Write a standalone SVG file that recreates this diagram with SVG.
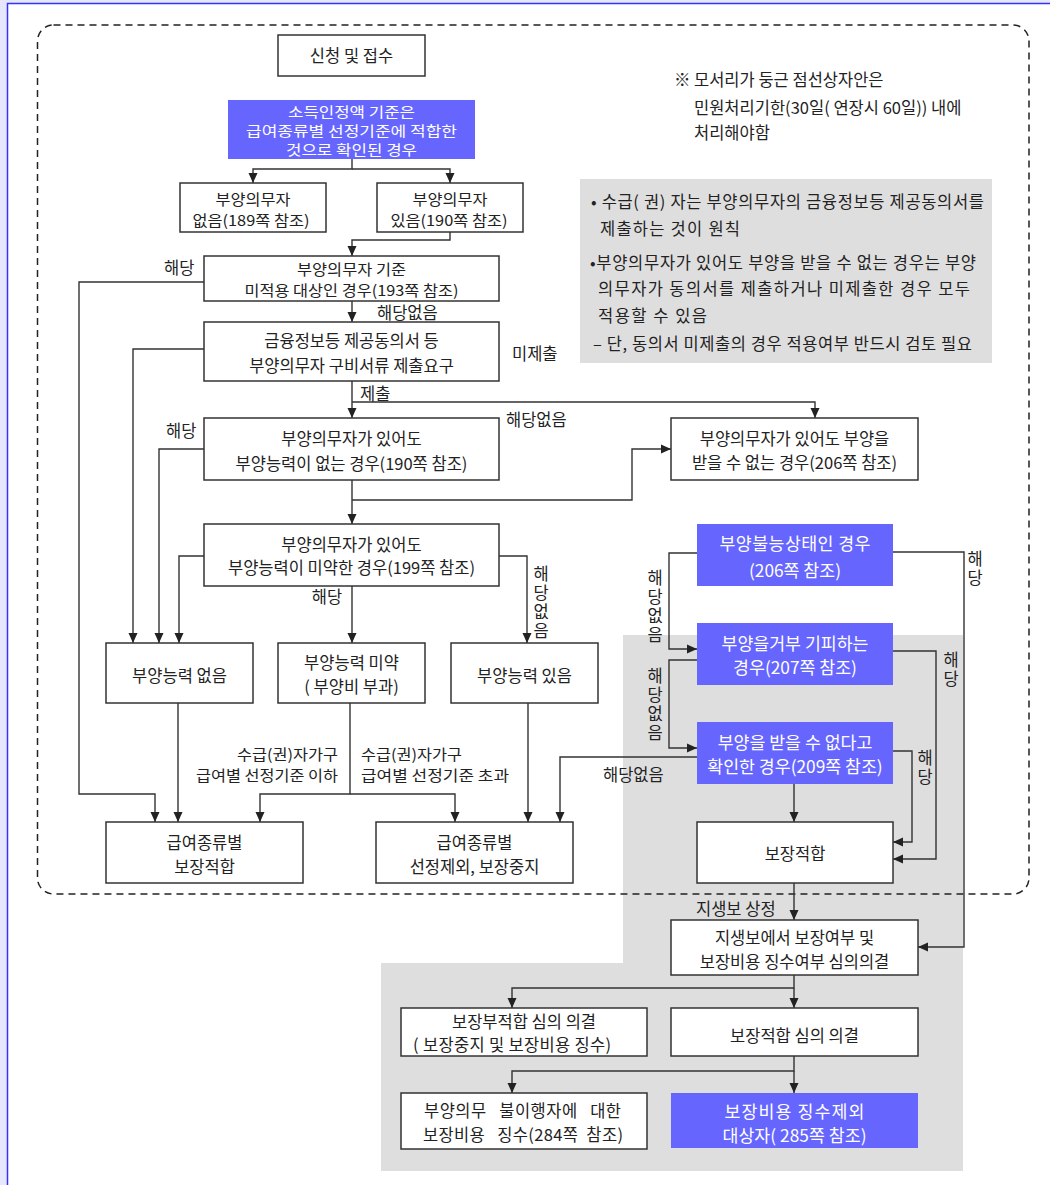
<svg xmlns="http://www.w3.org/2000/svg" width="1050" height="1185" viewBox="0 0 1050 1185">
<defs>
<marker id="ah" markerUnits="userSpaceOnUse" markerWidth="10" markerHeight="10" refX="10" refY="5" orient="auto">
<path d="M0,0.5 L10,5 L0,9.5 z" fill="#222"/>
</marker>
<style>
text{font-family:"Noto Sans CJK KR","Noto Sans",sans-serif;font-size:16.5px;fill:#222;dominant-baseline:central}
.c{text-anchor:middle}
.s{font-size:15px}
.w{fill:#fff;font-size:17.3px}
.t{fill:#fff;font-size:14px}
.v{writing-mode:vertical-rl;text-anchor:middle;letter-spacing:2.5px}
.box{fill:#fff;stroke:#333;stroke-width:1.5}
.blue{fill:#6666ff}
.cn{fill:none;stroke:#333;stroke-width:1.4}
.ar{marker-end:url(#ah)}
</style>
</defs>
<rect x="0" y="0" width="1050" height="1185" fill="#e6e6fc"/>
<rect x="7.5" y="3.5" width="1100" height="1250" fill="#fff" stroke="#3333ff" stroke-width="1.5"/>
<polygon points="623,635 963,635 963,1171 381,1171 381,963 623,963" fill="#dedede"/>
<rect x="37.5" y="25" width="991.5" height="869" rx="16" ry="16" fill="none" stroke="#222" stroke-width="1.5" stroke-dasharray="7 5"/>

<g id="note">
<text x="674" y="79">※</text>
<text x="694" y="79">모서리가 둥근 점선상자안은</text>
<text x="694" y="107">민원처리기한(30일( 연장시 60일)) 내에</text>
<text x="694" y="132">처리해야함</text>
</g>
<g id="notebox">
<rect x="580" y="179" width="412" height="184" fill="#dedede"/>
<text x="591" y="201" textLength="393" lengthAdjust="spacing">• 수급( 권) 자는 부양의무자의 금융정보등 제공동의서를</text>
<text x="600" y="228" textLength="140" lengthAdjust="spacing">제출하는 것이 원칙</text>
<text x="590" y="262" textLength="386" lengthAdjust="spacing">•부양의무자가 있어도 부양을 받을 수 없는 경우는 부양</text>
<text x="598" y="288" textLength="372" lengthAdjust="spacing">의무자가 동의서를 제출하거나 미제출한 경우 모두</text>
<text x="598" y="315" textLength="109" lengthAdjust="spacing">적용할 수 있음</text>
<text x="593" y="343" textLength="379" lengthAdjust="spacing">– 단, 동의서 미제출의 경우 적용여부 반드시 검토 필요</text>
</g>

<g id="connectors">
<path class="cn ar" d="M352,159 V169 H253 V183"/>
<path class="cn ar" d="M352,169 H450 V183"/>
<path class="cn ar" d="M450,232 V240 H352 V256"/>
<path class="cn ar" d="M352,301 V322"/>
<path class="cn ar" d="M204,282 H79 V794 H155 V822"/>
<path class="cn ar" d="M204,349 H133 V643"/>
<path class="cn ar" d="M352,381 V418"/>
<path class="cn ar" d="M352,402 H815 V418"/>
<path class="cn ar" d="M204,449 H159 V643"/>
<path class="cn ar" d="M352,480 V524"/>
<path class="cn ar" d="M352,500 H632 V449 H671"/>
<path class="cn ar" d="M204,556 H179 V643"/>
<path class="cn ar" d="M352,586 V643"/>
<path class="cn ar" d="M499,556 H527 V643"/>
<path class="cn ar" d="M178,703 V822"/>
<path class="cn ar" d="M350,703 V794 H260 V822"/>
<path class="cn ar" d="M350,794 H455 V822"/>
<path class="cn ar" d="M528,703 V822"/>
<path class="cn ar" d="M697,757 H560 V822"/>
<path class="cn ar" d="M697,553 H669 V649 H697"/>
<path class="cn ar" d="M697,660 H669 V748 H697"/>
<path class="cn ar" d="M893,552 H964 V947 H918"/>
<path class="cn ar" d="M893,651 H936 V859 H893"/>
<path class="cn ar" d="M893,751 H912 V842 H893"/>
<path class="cn ar" d="M794,784 V822"/>
<path class="cn ar" d="M794,883 V920"/>
<path class="cn ar" d="M794,975 V988 H512 V1008"/>
<path class="cn ar" d="M794,988 V1008"/>
<path class="cn ar" d="M794,1056 V1071 H512 V1093"/>
<path class="cn ar" d="M794,1071 V1093"/>
</g>

<g id="labels">
<text x="164" y="267">해당</text>
<text x="377" y="312">해당없음</text>
<text x="512" y="353">미제출</text>
<text x="360" y="393">제출</text>
<text x="166" y="430">해당</text>
<text x="506" y="419">해당없음</text>
<text class="c" x="327" y="596">해당</text>
<text class="v" x="541" y="603">해당없음</text>
<text class="s" x="338" y="753" text-anchor="end" textLength="101" lengthAdjust="spacingAndGlyphs">수급(권)자가구</text>
<text class="s" x="338" y="774" text-anchor="end" textLength="142" lengthAdjust="spacingAndGlyphs">급여별 선정기준 이하</text>
<text class="s" x="361" y="753" textLength="101" lengthAdjust="spacingAndGlyphs">수급(권)자가구</text>
<text class="s" x="361" y="774" textLength="148" lengthAdjust="spacingAndGlyphs">급여별 선정기준 초과</text>
<text x="603" y="774">해당없음</text>
<text class="v" x="655" y="607">해당없음</text>
<text class="v" x="655" y="705">해당없음</text>
<text class="v" x="975" y="569">해당</text>
<text class="v" x="951" y="670">해당</text>
<text class="v" x="925" y="768">해당</text>
<text x="696" y="908">지생보 상정</text>
</g>

<g id="n-apply"><rect class="box" x="278" y="35" width="147" height="41"/><text class="c" x="351.5" y="55">신청 및 접수</text></g>
<g id="n-income"><rect class="blue" x="228" y="100" width="247" height="59"/>
<text class="c t" x="351.5" y="110.5" textLength="127" lengthAdjust="spacingAndGlyphs">소득인정액 기준은</text>
<text class="c t" x="351.5" y="129.5" textLength="211" lengthAdjust="spacingAndGlyphs">급여종류별 선정기준에 적합한</text>
<text class="c t" x="351.5" y="148.5" textLength="131" lengthAdjust="spacingAndGlyphs">것으로 확인된 경우</text></g>
<g id="n-none"><rect class="box" x="180" y="183" width="146" height="49"/><text class="c s" x="253" y="198" textLength="75" lengthAdjust="spacingAndGlyphs">부양의무자</text><text class="c s" x="251" y="219" textLength="117" lengthAdjust="spacingAndGlyphs">없음(189쪽 참조)</text></g>
<g id="n-exist"><rect class="box" x="377" y="183" width="146" height="49"/><text class="c s" x="450" y="198" textLength="75" lengthAdjust="spacingAndGlyphs">부양의무자</text><text class="c s" x="449" y="219" textLength="117" lengthAdjust="spacingAndGlyphs">있음(190쪽 참조)</text></g>
<g id="n-criteria"><rect class="box" x="204" y="256" width="295" height="45"/><text class="c s" x="351.5" y="268" textLength="109" lengthAdjust="spacingAndGlyphs">부양의무자 기준</text><text class="c s" x="351.5" y="289" textLength="214" lengthAdjust="spacingAndGlyphs">미적용 대상인 경우(193쪽 참조)</text></g>
<g id="n-docs"><rect class="box" x="204" y="322" width="295" height="59"/><text class="c" x="351.5" y="340">금융정보등 제공동의서 등</text><text class="c" x="351.5" y="365">부양의무자 구비서류 제출요구</text></g>
<g id="n-noability"><rect class="box" x="204" y="418" width="295" height="62"/><text class="c" x="351.5" y="438">부양의무자가 있어도</text><text class="c" x="351.5" y="463">부양능력이 없는 경우(190쪽 참조)</text></g>
<g id="n-cannot"><rect class="box" x="671" y="418" width="247" height="62"/><text class="c" x="794.5" y="438">부양의무자가 있어도 부양을</text><text class="c" x="794.5" y="462">받을 수 없는 경우(206쪽 참조)</text></g>
<g id="n-weak"><rect class="box" x="204" y="524" width="295" height="62"/><text class="c" x="351.5" y="544">부양의무자가 있어도</text><text class="c" x="351.5" y="567">부양능력이 미약한 경우(199쪽 참조)</text></g>
<g id="n-ab-none"><rect class="box" x="106" y="643" width="147" height="60"/><text class="c" x="179.5" y="675">부양능력 없음</text></g>
<g id="n-ab-weak"><rect class="box" x="278" y="643" width="147" height="60"/><text class="c" x="351.5" y="662">부양능력 미약</text><text class="c" x="351.5" y="686">( 부양비 부과)</text></g>
<g id="n-ab-yes"><rect class="box" x="451" y="643" width="147" height="60"/><text class="c" x="524.5" y="675">부양능력 있음</text></g>
<g id="n-fit"><rect class="box" x="106" y="822" width="197" height="61"/><text class="c" x="204.5" y="842">급여종류별</text><text class="c" x="204.5" y="866">보장적합</text></g>
<g id="n-excl"><rect class="box" x="376" y="822" width="197" height="61"/><text class="c" x="474.5" y="842">급여종류별</text><text class="c" x="474.5" y="866">선정제외, 보장중지</text></g>
<g id="n-unable"><rect class="blue" x="697" y="524" width="196" height="62"/><text class="c w" x="795" y="542" textLength="151" lengthAdjust="spacing">부양불능상태인 경우</text><text class="c w" x="795" y="569">(206쪽 참조)</text></g>
<g id="n-refuse"><rect class="blue" x="697" y="623" width="196" height="62"/><text class="c w" x="795" y="642">부양을거부 기피하는</text><text class="c w" x="795" y="666">경우(207쪽 참조)</text></g>
<g id="n-confirmed"><rect class="blue" x="697" y="722" width="196" height="62"/><text class="c w" x="795" y="741">부양을 받을 수 없다고</text><text class="c w" x="795" y="765">확인한 경우(209쪽 참조)</text></g>
<g id="n-ok"><rect class="box" x="697" y="822" width="196" height="61"/><text class="c" x="795" y="853">보장적합</text></g>
<g id="n-committee"><rect class="box" x="671" y="920" width="247" height="55"/><text class="c" x="794.5" y="937">지생보에서 보장여부 및</text><text class="c" x="794.5" y="961">보장비용 징수여부 심의의결</text></g>
<g id="n-unfit"><rect class="box" x="401" y="1008" width="246" height="48"/><text class="c" x="524" y="1021">보장부적합 심의 의결</text><text class="c" x="512" y="1044" textLength="198" lengthAdjust="spacing">( 보장중지 및 보장비용 징수)</text></g>
<g id="n-fitdec"><rect class="box" x="671" y="1008" width="247" height="48"/><text class="c" x="794.5" y="1035">보장적합 심의 의결</text></g>
<g id="n-collect"><rect class="box" x="401" y="1093" width="246" height="56"/><text class="c" xml:space="preserve" x="522.5" y="1110" textLength="197" lengthAdjust="spacing">부양의무   불이행자에   대한</text><text class="c" xml:space="preserve" x="523" y="1134" textLength="200" lengthAdjust="spacing">보장비용   징수(284쪽  참조)</text></g>
<g id="n-exempt"><rect class="blue" x="671" y="1093" width="247" height="55"/><text class="c w" x="794.5" y="1110" textLength="140" lengthAdjust="spacing">보장비용 징수제외</text><text class="c w" x="794.5" y="1134" textLength="144" lengthAdjust="spacing">대상자( 285쪽 참조)</text></g>
</svg>
